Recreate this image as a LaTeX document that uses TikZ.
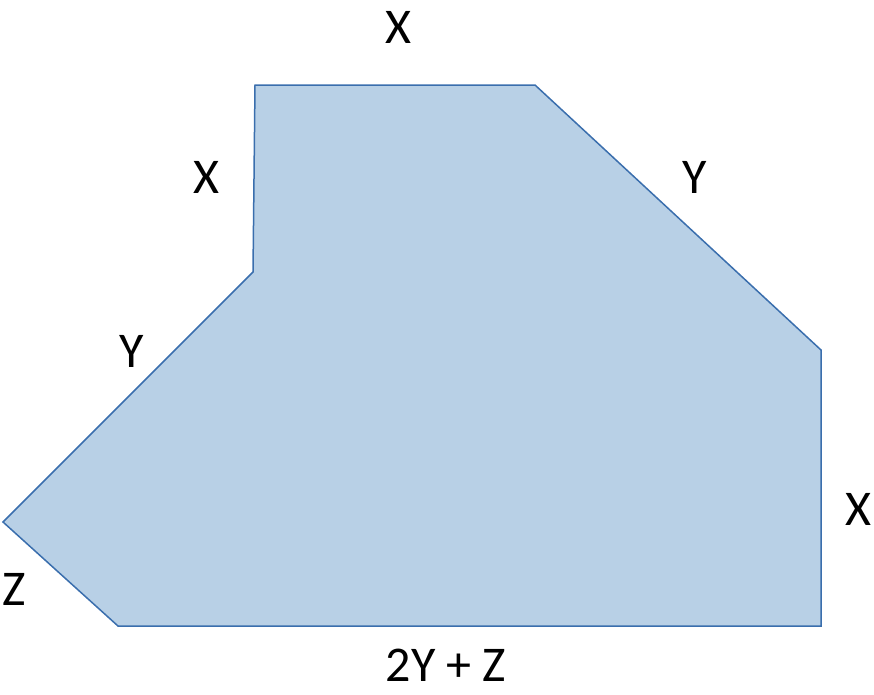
\documentclass[tikz,border=0pt]{standalone}
\usepackage{fontspec}
\setmainfont{Carlito}
\usetikzlibrary{positioning}
\definecolor{plotfill}{RGB}{184, 208, 230}
\definecolor{plotedge}{RGB}{58, 110, 173}

\begin{document}
\begin{tikzpicture}[x=1pt,y=-1pt]
% Canvas
\useasboundingbox (0,0) rectangle (874,694);

% Corners of the shape
\coordinate (A) at (255,85);
\coordinate (B) at (535,85);
\coordinate (C) at (821,350);
\coordinate (D) at (821,626);
\coordinate (E) at (118,626);
\coordinate (F) at (3,522);
\coordinate (G) at (253,272);

% Draw the shape
\filldraw[fill=plotfill, draw=plotedge, line width=1.5pt, line join=miter]
    (A) -- (B) -- (C) -- (D) -- (E) -- (F) -- (G) -- cycle;

% Add side labels
\begin{scope}[every node/.style={font=\fontsize{50}{60}\selectfont, text centered}]
\node (top)    at (398,27)  {X};
\node (upleft) at (206,177) {X};
\node (upright) at (695,177) {Y};
\node (midleft) at (132,351) {Y};
\node (right)  at (858,509) {X};
\node (lowleft) at (14,589) {Z};
\node (bottom) at (446,665) {2Y + Z};
\end{scope}
\end{tikzpicture}
\end{document}
